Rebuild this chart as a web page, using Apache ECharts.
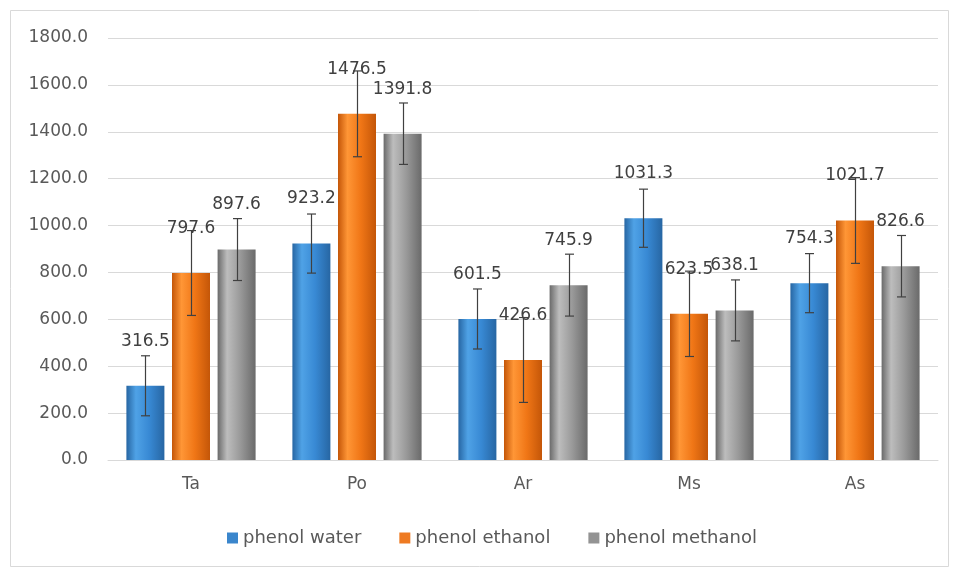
<!DOCTYPE html>
<html>
<head>
<meta charset="utf-8">
<script src="https://cdn.jsdelivr.net/npm/echarts@6/dist/echarts.min.js"></script>
<style>
  html, body { margin: 0; padding: 0; background: #fff; }
  #chart { width: 953px; height: 569px; }
</style>
</head>
<body>
<div id="chart"></div>
<script>
var categories = ['Ta', 'Po', 'Ar', 'Ms', 'As'];
var seriesNames = ['phenol water', 'phenol ethanol', 'phenol methanol'];
var waterValues = [316.5, 923.2, 601.5, 1031.3, 754.3];
var ethanolValues = [797.6, 1476.5, 426.6, 623.5, 1021.7];
var methanolValues = [897.6, 1391.8, 745.9, 638.1, 826.6];
// error bar half heights
var waterErrors = [128, 126, 128, 124, 126];
var ethanolErrors = [181, 183, 181, 182, 183];
var methanolErrors = [132, 131, 132, 130, 131];
var yTicks = [0, 200, 400, 600, 800, 1000, 1200, 1400, 1600, 1800];

var barWidth = 38;
var barGapRatio = 0.2;

function grad(dark, light, mid) {
  return new echarts.graphic.LinearGradient(0, 0, 1, 0, [
    { offset: 0, color: dark },
    { offset: 0.25, color: light },
    { offset: 0.6, color: mid },
    { offset: 1, color: dark }
  ]);
}

var colors = [
  grad('#2766a3', '#4fa2e6', '#3889d4'),
  grad('#c45608', '#ff9636', '#f07616'),
  grad('#6a6a6a', '#bdbdbd', '#999999')
];
var legendColors = ['#3a86cc', '#ee7a22', '#939393'];

var valueSets = [waterValues, ethanolValues, methanolValues];
var errorSets = [waterErrors, ethanolErrors, methanolErrors];

var chart = echarts.init(document.getElementById('chart'));

var series = [];
seriesNames.forEach(function (name, i) {
  series.push({
    name: name,
    type: 'bar',
    barWidth: barWidth,
    barGap: (barGapRatio * 100) + '%',
    data: valueSets[i],
    itemStyle: { color: colors[i] },
    label: {
      show: true,
      position: 'top',
      distance: 36,
      formatter: function (p) { return p.value.toFixed(1); },
      color: '#404040',
      fontSize: 17,
      fontFamily: 'DejaVu Sans'
    },
    z: 2
  });
});

// error bars
seriesNames.forEach(function (name, i) {
  var rows = valueSets[i].map(function (v, k) {
    return [k, v - errorSets[i][k], v + errorSets[i][k]];
  });
  series.push({
    type: 'custom',
    name: name + ' err',
    data: rows,
    z: 5,
    silent: true,
    renderItem: function (params, api) {
      var off = (i - 1) * barWidth * (1 + barGapRatio);
      var lo = api.coord([api.value(0), api.value(1)]);
      var hi = api.coord([api.value(0), api.value(2)]);
      var x = Math.round(lo[0] + off) + 0.5;
      var cap = 4.5;
      var style = { stroke: '#404040', lineWidth: 1.2 };
      return {
        type: 'group',
        children: [
          { type: 'line', shape: { x1: x, y1: hi[1], x2: x, y2: lo[1] }, style: style },
          { type: 'line', shape: { x1: x - cap, y1: hi[1], x2: x + cap, y2: hi[1] }, style: style },
          { type: 'line', shape: { x1: x - cap, y1: lo[1], x2: x + cap, y2: lo[1] }, style: style }
        ]
      };
    }
  });
});

var option = {
  animation: false,
  backgroundColor: '#fff',
  textStyle: { fontFamily: 'DejaVu Sans' },
  graphic: [{
    type: 'rect',
    silent: true,
    shape: { x: 10.5, y: 10.5, width: 938, height: 556 },
    style: { fill: 'none', stroke: '#d9d9d9', lineWidth: 1 }
  }],
  grid: { left: 108, right: 15, top: 38, bottom: 109 },
  legend: {
    data: seriesNames.map(function (n, i) {
      return { name: n, itemStyle: { color: legendColors[i] } };
    }),
    bottom: 17,
    left: 222,
    icon: 'rect',
    itemWidth: 11,
    itemHeight: 11,
    itemGap: 38,
    textStyle: { color: '#595959', fontSize: 18, fontFamily: 'DejaVu Sans' }
  },
  xAxis: {
    type: 'category',
    data: categories,
    axisLine: { lineStyle: { color: '#d9d9d9' } },
    axisTick: { show: false },
    axisLabel: { color: '#595959', fontSize: 17, margin: 16, fontFamily: 'DejaVu Sans' }
  },
  yAxis: {
    type: 'value',
    min: yTicks[0],
    max: yTicks[yTicks.length - 1],
    interval: yTicks[1] - yTicks[0],
    axisLine: { show: false },
    axisTick: { show: false },
    splitLine: { lineStyle: { color: '#d9d9d9' } },
    axisLabel: {
      color: '#595959',
      fontSize: 17,
      margin: 20,
      fontFamily: 'DejaVu Sans',
      formatter: function (v) { return v.toFixed(1); }
    }
  },
  series: series
};

chart.setOption(option);
</script>
</body>
</html>
